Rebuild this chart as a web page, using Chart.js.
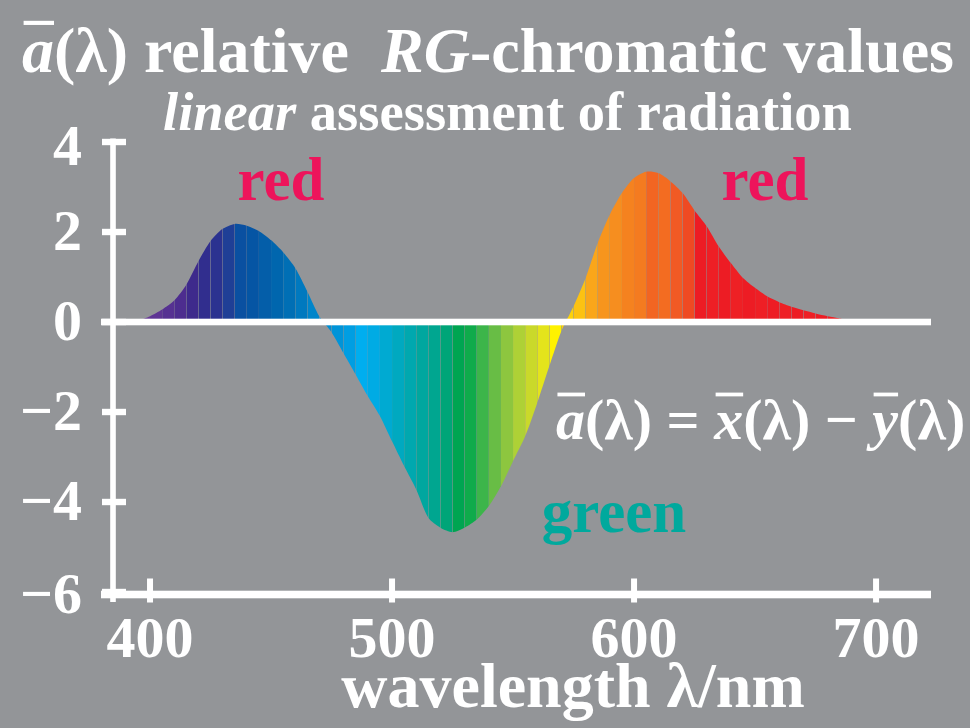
<!DOCTYPE html>
<html>
<head>
<meta charset="utf-8">
<script src="https://cdn.jsdelivr.net/npm/chart.js@4/dist/chart.umd.min.js"></script>
<style>
  html, body { margin: 0; padding: 0; background: #939598; }
  canvas { display: block; }
</style>
</head>
<body>
<canvas id="c" width="970" height="728"></canvas>
<script>
// Wavelength samples (nm), 5 nm steps
const wavelengths = [
  390, 395, 400, 405, 410, 415, 420, 425, 430, 435,
  440, 445, 450, 455, 460, 465, 470, 475, 480, 485,
  490, 495, 500, 505, 510, 515, 520, 525, 530, 535,
  540, 545, 550, 555, 560, 565, 570, 575, 580, 585,
  590, 595, 600, 605, 610, 615, 620, 625, 630, 635,
  640, 645, 650, 655, 660, 665, 670, 675, 680, 685, 690
];

// Relative RG-chromatic value a(λ) = x(λ) − y(λ)
const aValues = [
  0.00, 0.03, 0.13, 0.28, 0.48, 0.83, 1.35, 1.80, 2.07, 2.18,
  2.14, 2.02, 1.82, 1.55, 1.20, 0.68, 0.12, -0.23, -0.70, -1.17,
  -1.65, -2.09, -2.65, -3.20, -3.72, -4.35, -4.57, -4.67, -4.57, -4.39,
  -4.09, -3.65, -3.09, -2.54, -1.80, -0.98, -0.20, 0.35, 0.98, 1.76,
  2.39, 2.87, 3.20, 3.34, 3.31, 3.13, 2.87, 2.48, 2.13, 1.68,
  1.31, 0.98, 0.76, 0.57, 0.44, 0.34, 0.26, 0.19, 0.13, 0.08, 0.00
];

// Spectral colour of each 5 nm strip, starting at the matching wavelength
const stripColors = [
  '#6b3f98', '#673a96', '#5e3594', '#563192', '#4d2d8f', '#3e2a8c', '#312e8e', '#2b3290', '#1f3f96', '#0a50a1',
  '#0555a4', '#045ea9', '#0066ae', '#006fb5', '#0079bf', '#0085ca', '#008dd2', '#0094d8', '#009ee2', '#00aeef',
  '#00abe4', '#00aad2', '#00a9c0', '#00a8af', '#00a79f', '#00a690', '#00a578', '#00a551', '#0fab4b', '#3cb54a',
  '#68bd45', '#8dc63f', '#aed136', '#cad92a', '#e4e41b', '#fff200', '#fdd20a', '#fcc212', '#faa61a', '#f7951d',
  '#f68e1f', '#f5821f', '#f47b20', '#f26522', '#f36c21', '#f15a24', '#ef4a23', '#ed1c24', '#ee1f25', '#ed1c24',
  '#ee2025', '#ed1c24', '#ee1f25', '#ed1c24', '#ee2025', '#ed1c24', '#ee1f25', '#ed1c24', '#ee2025', '#ed1c24', '#ed1c24'
];

// Axis ticks
const xTickValues = [400, 500, 600, 700];
const xTickLabels = ['400', '500', '600', '700'];
const yTickValues = [-6, -4, -2, 0, 2, 4];
const yTickLabels = ['\u22126', '\u22124', '\u22122', '0', '2', '4'];

const xMin = 384.7, xMax = 722.7;
const yMin = -6, yMax = 4;

const SERIF = "'Liberation Serif', 'Times New Roman', Times, serif";
const WHITE = '#ffffff';
const BG = '#939598';

function font(size, italic) {
  return (italic ? 'italic ' : '') + 'bold ' + size + 'px ' + SERIF;
}

// Draw a line of mixed roman / italic runs; runs marked `bar` get an overline
function drawRuns(ctx, runs, x, y, size, color) {
  ctx.save();
  ctx.fillStyle = color;
  ctx.textBaseline = 'alphabetic';
  ctx.textAlign = 'left';
  let cx = x;
  for (const r of runs) {
    const s = size * (r.scale || 1);
    ctx.font = font(s, r.italic);
    const w = ctx.measureText(r.t).width;
    ctx.fillText(r.t, cx, y + (r.dy || 0));
    if (r.bar) {
      const bx = cx + w * 0.05;
      const bw = w * 0.95;
      ctx.fillRect(bx, y - size * 0.8, bw, Math.max(3, size * 0.065));
    }
    cx += w;
  }
  ctx.restore();
  return cx - x;
}

const backgroundPlugin = {
  id: 'background',
  beforeDraw(chart) {
    const ctx = chart.ctx;
    ctx.save();
    ctx.fillStyle = BG;
    ctx.fillRect(0, 0, chart.width, chart.height);
    ctx.restore();
  }
};

const axesPlugin = {
  id: 'axesAndText',
  afterDatasetsDraw(chart) {
    const ctx = chart.ctx;
    const xs = chart.scales.x;
    const ys = chart.scales.y;
    const area = chart.chartArea;
    const tickHalf = 12;
    ctx.save();
    ctx.fillStyle = WHITE;

    // zero line across the plot
    const y0 = ys.getPixelForValue(0);
    ctx.fillRect(area.left - tickHalf, y0 - 3.3, area.right - area.left + tickHalf, 6.6);

    // y axis
    const axX = area.left;
    const yTop = ys.getPixelForValue(yMax) - 3.5;
    ctx.fillRect(axX - 2.8, yTop, 5.6, (area.bottom + 10) - yTop);
    // y ticks
    yTickValues.forEach(v => {
      const py = ys.getPixelForValue(v);
      ctx.fillRect(axX - tickHalf + 1, py - 3.2, tickHalf * 2, 6.4);
    });

    // x axis
    const axY = area.bottom + 2.5;
    ctx.fillRect(area.left - tickHalf, axY - 3.8, area.right - area.left + tickHalf, 7.6);
    xTickValues.forEach(v => {
      const px = xs.getPixelForValue(v);
      ctx.fillRect(px - 3, axY - 16, 6, 24);
    });

    // tick labels
    ctx.font = font(58);
    ctx.textAlign = 'right';
    ctx.textBaseline = 'middle';
    yTickValues.forEach((v, i) => {
      const py = ys.getPixelForValue(v);
      let off = 3;
      if (v === yMax) off = 8;
      if (v === yMin) off = 6;
      ctx.fillText(yTickLabels[i], 82, py + off);
    });
    ctx.textAlign = 'center';
    xTickValues.forEach((v, i) => {
      ctx.fillText(xTickLabels[i], xs.getPixelForValue(v), 642);
    });

    // axis title
    ctx.font = font(64);
    ctx.textBaseline = 'alphabetic';
    ctx.fillText('wavelength \u03bb/nm', 573, 707);

    // titles
    drawRuns(ctx, [
      { t: 'a', italic: true, bar: true },
      { t: '(\u03bb)' },
      { t: ' relative  ' },
      { t: 'RG', italic: true },
      { t: '-chromatic values' }
    ], 22, 72, 64, WHITE);
    drawRuns(ctx, [
      { t: 'linear', italic: true },
      { t: ' assessment of radiation' }
    ], 163, 130, 54.5, WHITE);

    // formula
    drawRuns(ctx, [
      { t: 'a', italic: true, bar: true },
      { t: '(\u03bb) = ' },
      { t: 'x', italic: true, bar: true },
      { t: '(\u03bb) \u2212 ' },
      { t: 'y', italic: true, bar: true },
      { t: '(\u03bb)' }
    ], 556, 439, 58, WHITE);

    // region labels
    ctx.font = font(61);
    ctx.textAlign = 'center';
    ctx.fillStyle = '#ed145b';
    ctx.fillText('red', 281, 200);
    ctx.fillText('red', 765, 200);
    ctx.fillStyle = '#00a99d';
    ctx.fillText('green', 614, 532);
    ctx.restore();
  }
};

const points = wavelengths.map((w, i) => ({ x: w, y: aValues[i] }));

new Chart(document.getElementById('c'), {
  type: 'line',
  data: {
    datasets: [{
      data: points,
      fill: 'origin',
      backgroundColor: stripColors[0],
      borderWidth: 0,
      borderColor: 'rgba(0,0,0,0)',
      pointRadius: 0,
      tension: 0.25,
      segment: {
        backgroundColor: c => stripColors[c.p0DataIndex]
      }
    }]
  },
  options: {
    responsive: false,
    animation: false,
    events: [],
    layout: { padding: { left: 113, right: 39, top: 142, bottom: 136 } },
    scales: {
      x: { type: 'linear', min: xMin, max: xMax, display: false },
      y: { type: 'linear', min: yMin, max: yMax, display: false }
    },
    plugins: {
      legend: { display: false },
      tooltip: { enabled: false }
    }
  },
  plugins: [backgroundPlugin, axesPlugin]
});
</script>
</body>
</html>
